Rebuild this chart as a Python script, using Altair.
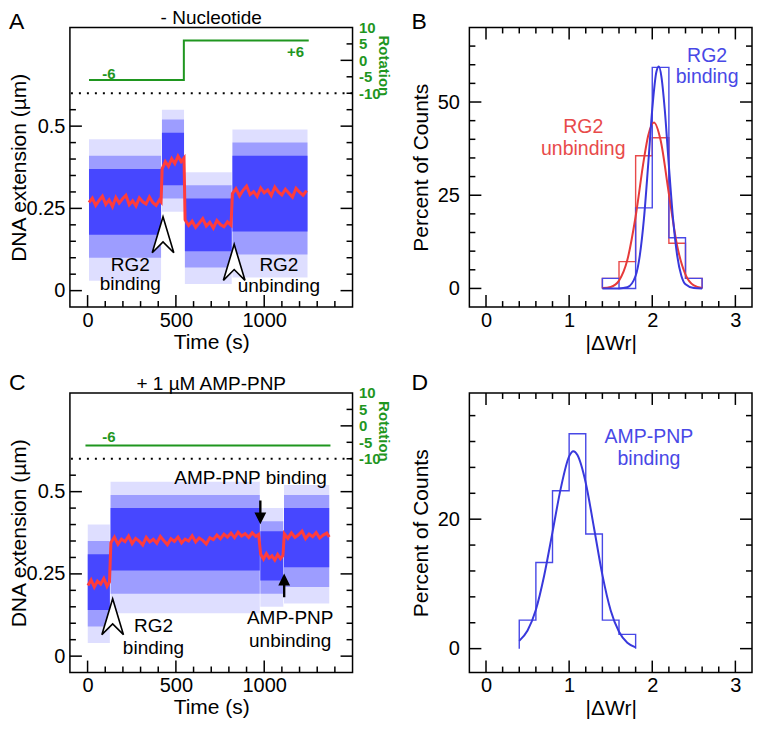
import altair as alt
import pandas as pd

FONT = "Liberation Sans"
PT_BLUE = "#3434ff"
TR_RED = "#ff3c3c"
GREEN = "#1f961f"
H_BLUE = "#4848e6"
H_RED = "#e84a4a"
C_BLUE = "#3838dc"
C_RED = "#e63a3a"

W, H = 283, 280

# ---------------- Panel A (- Nucleotide) ----------------
a_seg_t0 = [8, 421, 551, 820]
a_seg_t1 = [416, 546, 816, 1245]
a_out_lo = [0.03, 0.24, 0.02, 0.04]
a_out_hi = [0.46, 0.55, 0.36, 0.49]
a_mid_lo = [0.10, 0.28, 0.07, 0.11]
a_mid_hi = [0.41, 0.52, 0.32, 0.45]
a_core_lo = [0.17, 0.32, 0.12, 0.18]
a_core_hi = [0.37, 0.48, 0.28, 0.41]

a_red_t = [8, 27, 46, 65, 84, 103, 122, 141, 160, 179, 198, 217, 236, 255, 274, 293, 312, 331, 350, 369, 388, 407, 416,
           422, 440, 458, 476, 494, 512, 530, 546,
           552, 572, 592, 612, 632, 652, 672, 692, 712, 732, 752, 772, 792, 812,
           820, 840, 860, 880, 900, 920, 940, 960, 980, 1000, 1020, 1040, 1060, 1080, 1100, 1120, 1140, 1160, 1180, 1200, 1220, 1240]
a_red_v = [0.268, 0.281, 0.259, 0.274, 0.287, 0.262, 0.276, 0.255, 0.283, 0.266, 0.279, 0.290, 0.261, 0.273, 0.257, 0.282, 0.270, 0.263, 0.285, 0.268, 0.259, 0.276, 0.270,
           0.370, 0.392, 0.378, 0.401, 0.386, 0.409, 0.392, 0.403,
           0.215, 0.198, 0.211, 0.192, 0.205, 0.219, 0.196, 0.208, 0.190, 0.213, 0.201, 0.194, 0.209, 0.199,
           0.295, 0.310, 0.288, 0.305, 0.318, 0.292, 0.301, 0.286, 0.312, 0.297, 0.306, 0.289, 0.315, 0.300, 0.291, 0.308, 0.296, 0.284, 0.311, 0.299, 0.290, 0.304]

a_rot_t = [8, 545, 545, 1252]
a_rot_v = [-6, -6, 6, 6]
a_rot_lab = ["-6", "+6"]
a_rot_lab_t = [121, 1177]
a_rot_lab_v = [-5.6, 1.0]

a_chev_t = [427, 830]
a_chev_e = [0.17, 0.086]
a_txt = ["RG2", "binding", "RG2", "unbinding"]
a_txt_t = [242, 242, 1083, 1083]
a_txt_e = [0.061, 0.001, 0.061, -0.004]

# ---------------- Panel C (+ 1 µM AMP-PNP) ----------------
c_seg_t0 = [1, 130, 978, 1112]
c_seg_t1 = [126, 975, 1108, 1368]
c_out_lo = [0.04, 0.13, 0.15, 0.16]
c_out_hi = [0.40, 0.53, 0.45, 0.52]
c_mid_lo = [0.09, 0.19, 0.19, 0.21]
c_mid_hi = [0.35, 0.49, 0.41, 0.49]
c_core_lo = [0.14, 0.26, 0.23, 0.27]
c_core_hi = [0.31, 0.45, 0.38, 0.45]

c_red_t = [2, 20, 38, 56, 74, 92, 110, 124,
           132, 152, 172, 192, 212, 232, 252, 272, 292, 312, 332, 352, 372, 392, 412, 432, 452, 472, 492, 512, 532, 552,
           572, 592, 612, 632, 652, 672, 692, 712, 732, 752, 772, 792, 812, 832, 852, 872, 892, 912, 932, 952, 968,
           980, 996, 1012, 1028, 1044, 1060, 1076, 1092, 1106,
           1114, 1134, 1154, 1174, 1194, 1214, 1234, 1254, 1274, 1294, 1314, 1334, 1354, 1368]
c_red_v = [0.215, 0.232, 0.210, 0.228, 0.219, 0.236, 0.212, 0.226,
           0.345, 0.362, 0.340, 0.356, 0.348, 0.365, 0.342, 0.358, 0.350, 0.338,
           0.361, 0.347, 0.355, 0.343, 0.364, 0.351, 0.339, 0.357, 0.349, 0.362,
           0.344, 0.356, 0.350, 0.366, 0.347, 0.359, 0.352, 0.341, 0.360, 0.354,
           0.368, 0.357, 0.371, 0.362, 0.374, 0.360, 0.377, 0.365, 0.372, 0.361,
           0.375, 0.364, 0.370,
           0.310, 0.295, 0.312, 0.298, 0.305, 0.292, 0.309, 0.296, 0.306,
           0.372, 0.358, 0.375, 0.361, 0.369, 0.380, 0.357, 0.371, 0.363, 0.376, 0.359, 0.368, 0.374, 0.362]

c_rot_t = [-12, 1375]
c_rot_v = [-6, -6]
c_rot_lab = ["-6"]
c_rot_lab_t = [121]
c_rot_lab_v = [-5.0]

c_chev_t = [142]
c_chev_e = [0.12]
c_down_t, c_down_e = [978], [0.437]
c_up_t, c_up_e = [1113], [0.215]
c_txt = ["AMP-PNP binding", "RG2", "binding", "AMP-PNP", "unbinding"]
c_txt_t = [923, 373, 373, 1147, 1147]
c_txt_e = [0.522, 0.072, 0.005, 0.099, 0.029]

# ---------------- Panel B histograms ----------------
b_bin_lo = [1.4, 1.6, 1.8, 2.0, 2.2, 2.4]
b_bin_hi = [1.6, 1.8, 2.0, 2.2, 2.4, 2.6]
b_bind = [2.7, 0.0, 21.6, 59.3, 13.6, 2.7]
b_unbind = [2.7, 7.2, 35.6, 40.4, 12.1, 2.7]
b_bind_cx = [1.4, 1.6, 1.7, 1.8, 1.85, 1.9, 1.95, 2.0, 2.05, 2.08, 2.11, 2.15, 2.2, 2.25, 2.3, 2.35, 2.4, 2.5, 2.6]
b_bind_cy = [0.0, 0.0, 0.3, 3.4, 8.8, 18.7, 32.9, 48.1, 58.1, 59.5, 56.8, 48.1, 32.9, 18.7, 8.8, 3.4, 1.1, 0.1, 0.0]
b_unb_cx = [1.4, 1.5, 1.6, 1.7, 1.8, 1.9, 1.95, 2.02, 2.1, 2.2, 2.3, 2.4, 2.5, 2.6]
b_unb_cy = [0.1, 0.4, 2.1, 7.6, 19.3, 34.7, 40.9, 44.5, 39.8, 25.4, 11.4, 3.7, 0.8, 0.1]

# ---------------- Panel D histogram ----------------
d_bin_lo = [0.4, 0.6, 0.8, 1.0, 1.2, 1.4, 1.6]
d_bin_hi = [0.6, 0.8, 1.0, 1.2, 1.4, 1.6, 1.8]
d_bind = [4.4, 13.3, 24.4, 33.2, 17.7, 4.4, 2.2]
d_cx = [0.4, 0.5, 0.6, 0.7, 0.8, 0.9, 1.0, 1.05, 1.1, 1.2, 1.3, 1.4, 1.5, 1.6, 1.7, 1.8]
d_cy = [1.2, 2.8, 6.0, 11.3, 18.0, 24.8, 29.7, 30.5, 29.9, 25.6, 18.6, 11.4, 5.9, 2.6, 0.9, 0.2]

# ---------------- ticks ----------------
t_maj = [0, 500, 1000]
t_min = [100, 200, 300, 400, 600, 700, 800, 900, 1100, 1200, 1300, 1400]
e_maj = [0, 0.25, 0.5]
e_min = [0.05, 0.1, 0.15, 0.2, 0.3, 0.35, 0.4, 0.45, 0.55]
r_lab = [-10, -5, 0, 5, 10]
r_maj = [0]
r_min = [-10, -5, 5]
w_maj = [0, 1, 2, 3]
w_min = [0.2, 0.4, 0.6, 0.8, 1.2, 1.4, 1.6, 1.8, 2.2, 2.4, 2.6, 2.8]
pb_maj = [0, 25, 50]
pb_min = [5, 10, 15, 20, 30, 35, 40, 45, 55, 60, 65]
pd_maj = [0, 20]
pd_min = [4, 8, 12, 16, 24, 28, 32, 36]

CHEVRON = "M0,-1L0.6,1L0,0.4L-0.6,1Z"
DOWN = "M-0.1,-1L0.1,-1L0.1,0L0.5,0L0,1L-0.5,0L-0.1,0Z"
UP = "M-0.1,1L0.1,1L0.1,0L0.5,0L0,-1L-0.5,0L-0.1,0Z"

MAJ, MIN = 12, 6

AX = dict(grid=False, domain=False, ticks=False, labelFont=FONT, titleFont=FONT,
          labelFontSize=20, titleFontSize=21, labelColor="black", titleColor="black",
          titleFontWeight="normal")


def tick_layers(xs, ys, xax, yax, xvals_major, xvals_minor, yvals_major, yvals_minor, sides):
    out = []
    for vals, L in ((yvals_major, MAJ), (yvals_minor, MIN)):
        if not vals:
            continue
        df = pd.DataFrame({"v": vals})
        if "left" in sides:
            out.append(alt.Chart(df).mark_rule(color="black", strokeWidth=1.5).encode(
                y=alt.Y("v:Q", scale=ys, axis=yax), x=alt.value(0), x2=alt.value(L)))
        if "right" in sides:
            out.append(alt.Chart(df).mark_rule(color="black", strokeWidth=1.5).encode(
                y=alt.Y("v:Q", scale=ys, axis=yax), x=alt.value(W), x2=alt.value(W - L)))
    for vals, L in ((xvals_major, MAJ), (xvals_minor, MIN)):
        if not vals:
            continue
        df = pd.DataFrame({"v": vals})
        if "bottom" in sides:
            out.append(alt.Chart(df).mark_rule(color="black", strokeWidth=1.5).encode(
                x=alt.X("v:Q", scale=xs, axis=xax), y=alt.value(H), y2=alt.value(H - L)))
        if "top" in sides:
            out.append(alt.Chart(df).mark_rule(color="black", strokeWidth=1.5).encode(
                x=alt.X("v:Q", scale=xs, axis=xax), y=alt.value(0), y2=alt.value(L)))
    return out


def letter_layer(letter, dx, dy):
    return alt.Chart(pd.DataFrame({"s": [letter]})).mark_text(
        fontSize=23, align="left", baseline="alphabetic", font=FONT, color="black"
    ).encode(text="s:N", x=alt.value(dx), y=alt.value(dy))


def title_layer(title):
    return alt.Chart(pd.DataFrame({"s": [title]})).mark_text(
        fontSize=19, align="center", baseline="alphabetic", font=FONT, color="black"
    ).encode(text="s:N", x=alt.value(W / 2), y=alt.value(-3))


def time_panel(letter, title, seg, red_t, red_v, rot_t, rot_v, rlab, rlab_t, rlab_v,
               chev_t, chev_e, txt, txt_t, txt_e, arrows, letter_dy):
    xs = alt.Scale(domain=[-100, 1500], nice=False, zero=False)
    ys = alt.Scale(domain=[-0.05, 0.8], nice=False, zero=False)
    rs = alt.Scale(domain=[-75, 10], nice=False, zero=False)
    t0, t1, olo, ohi, mlo, mhi, clo, chi = seg
    seg_df = pd.DataFrame({"t0": t0, "t1": t1, "olo": olo, "ohi": ohi,
                           "mlo": mlo, "mhi": mhi, "clo": clo, "chi": chi})
    xax = alt.Axis(values=t_maj, title="Time (s)", format="d", labelPadding=3, titlePadding=1,
                   labelFlush=False, **AX)
    yax = alt.Axis(values=e_maj, title="DNA extension (µm)", format=".2~f", labelPadding=5,
                   titleX=-40, **AX)
    layers = []
    for lo, hi, op in (("olo", "ohi", 0.16), ("mlo", "mhi", 0.38), ("clo", "chi", 0.82)):
        layers.append(alt.Chart(seg_df).mark_rect(color=PT_BLUE, opacity=op).encode(
            x=alt.X("t0:Q", scale=xs, axis=xax),
            x2="t1:Q",
            y=alt.Y(f"{lo}:Q", scale=ys, axis=yax),
            y2=f"{hi}:Q"))
    red_df = pd.DataFrame({"t": red_t, "v": red_v})
    layers.append(alt.Chart(red_df).mark_line(color=TR_RED, strokeWidth=3).encode(
        x=alt.X("t:Q", scale=xs, axis=xax), y=alt.Y("v:Q", scale=ys, axis=yax)))
    layers.append(alt.Chart(pd.DataFrame({"d": [0.6]})).mark_rule(
        color="black", strokeWidth=2, strokeDash=[2, 6]).encode(
        y=alt.Y("d:Q", scale=ys, axis=yax)))
    layers.append(alt.Chart(pd.DataFrame({"t": chev_t, "e": chev_e})).mark_point(
        shape=CHEVRON, size=1300, filled=True, fill="white", stroke="black",
        strokeWidth=1.6, opacity=1).encode(
        x=alt.X("t:Q", scale=xs, axis=xax), y=alt.Y("e:Q", scale=ys, axis=yax)))
    for shp, at, ae in arrows:
        layers.append(alt.Chart(pd.DataFrame({"t": at, "e": ae})).mark_point(
            shape=shp, size=560, filled=True, color="black", opacity=1).encode(
            x=alt.X("t:Q", scale=xs, axis=xax), y=alt.Y("e:Q", scale=ys, axis=yax)))
    layers.append(alt.Chart(pd.DataFrame({"s": txt, "t": txt_t, "e": txt_e})).mark_text(
        fontSize=19, align="center", baseline="alphabetic", font=FONT, color="black").encode(
        text="s:N", x=alt.X("t:Q", scale=xs, axis=xax), y=alt.Y("e:Q", scale=ys, axis=yax)))
    layers += tick_layers(xs, ys, xax, yax, t_maj, t_min, e_maj, e_min, ("left", "right", "bottom"))
    layers.append(letter_layer(letter, -61, letter_dy))
    layers.append(title_layer(title))
    main = alt.layer(*layers)

    rax = alt.Axis(values=r_lab, orient="right", grid=False, domain=False, ticks=False,
                   labelFont=FONT, titleFont=FONT, labelExpr="'' + datum.value",
                   labelColor=GREEN, labelFontWeight="bold",
                   labelFontSize=15, labelPadding=6, labelAlign="left",
                   title="Rotation", titleColor=GREEN, titleFontWeight="bold", titleFontSize=15,
                   titleAngle=90, titleX=31, titleY=38, titleAlign="center", titleBaseline="middle")
    rot_df = pd.DataFrame({"t": rot_t, "r": rot_v, "i": list(range(len(rot_t)))})
    rl = [alt.Chart(rot_df).mark_line(color=GREEN, strokeWidth=2).encode(
        x=alt.X("t:Q", scale=xs, axis=xax), y=alt.Y("r:Q", scale=rs, axis=rax), order="i:Q")]
    rl.append(alt.Chart(pd.DataFrame({"s": rlab, "t": rlab_t, "r": rlab_v})).mark_text(
        fontSize=15, fontWeight="bold", color=GREEN, align="center", baseline="alphabetic", font=FONT).encode(
        text="s:N", x=alt.X("t:Q", scale=xs, axis=xax), y=alt.Y("r:Q", scale=rs, axis=rax)))
    rl += tick_layers(xs, rs, xax, rax, [], [], r_maj, r_min, ("right",))
    rot = alt.layer(*rl)
    return alt.layer(main, rot).resolve_scale(y="independent").properties(width=W, height=H)


def step_df(lo, hi, vals):
    xs_ = [lo[0]] + list(lo) + [hi[-1], hi[-1]]
    ys_ = [0] + list(vals) + [vals[-1], 0]
    return pd.DataFrame({"x": xs_, "y": ys_, "i": list(range(len(xs_)))})


def hist_panel(letter, ydom, ymaj, ymin, steps, curves, texts, letter_dy):
    xs = alt.Scale(domain=[-0.2, 3.2], nice=False, zero=False)
    ys = alt.Scale(domain=ydom, nice=False, zero=False)
    xax = alt.Axis(values=w_maj, title="|ΔWr|", labelPadding=3, titlePadding=2, labelFlush=False, **AX)
    yax = alt.Axis(values=ymaj, title="Percent of Counts", labelPadding=10, titlePadding=6, **AX)
    layers = []
    for df, col in steps:
        layers.append(alt.Chart(df).mark_line(color=col, strokeWidth=1.4, interpolate="step-after").encode(
            x=alt.X("x:Q", scale=xs, axis=xax),
            y=alt.Y("y:Q", scale=ys, axis=yax),
            order="i:Q"))
    for cx, cy, col in curves:
        layers.append(alt.Chart(pd.DataFrame({"x": cx, "y": cy})).mark_line(
            color=col, strokeWidth=2, interpolate="monotone").encode(
            x=alt.X("x:Q", scale=xs, axis=xax), y=alt.Y("y:Q", scale=ys, axis=yax)))
    for s, tx, ty, col in texts:
        layers.append(alt.Chart(pd.DataFrame({"s": s, "x": tx, "y": ty})).mark_text(
            fontSize=19.5, align="center", baseline="alphabetic", font=FONT, color=col).encode(
            text="s:N", x=alt.X("x:Q", scale=xs, axis=xax), y=alt.Y("y:Q", scale=ys, axis=yax)))
    layers += tick_layers(xs, ys, xax, yax, w_maj, w_min, ymaj, ymin, ("left", "right", "bottom", "top"))
    layers.append(letter_layer(letter, -58, letter_dy))
    return alt.layer(*layers).properties(width=W, height=H)


A = time_panel("A", "- Nucleotide",
               (a_seg_t0, a_seg_t1, a_out_lo, a_out_hi, a_mid_lo, a_mid_hi, a_core_lo, a_core_hi),
               a_red_t, a_red_v, a_rot_t, a_rot_v, a_rot_lab, a_rot_lab_t, a_rot_lab_v,
               a_chev_t, a_chev_e, a_txt, a_txt_t, a_txt_e, [], 2)
C = time_panel("C", "+ 1 µM AMP-PNP",
               (c_seg_t0, c_seg_t1, c_out_lo, c_out_hi, c_mid_lo, c_mid_hi, c_core_lo, c_core_hi),
               c_red_t, c_red_v, c_rot_t, c_rot_v, c_rot_lab, c_rot_lab_t, c_rot_lab_v,
               c_chev_t, c_chev_e, c_txt, c_txt_t, c_txt_e,
               [(DOWN, c_down_t, c_down_e), (UP, c_up_t, c_up_e)], -3)

B = hist_panel("B", [-5, 70], pb_maj, pb_min,
               [(step_df(b_bin_lo, b_bin_hi, b_unbind), H_RED), (step_df(b_bin_lo, b_bin_hi, b_bind), H_BLUE)],
               [(b_unb_cx, b_unb_cy, C_RED), (b_bind_cx, b_bind_cy, C_BLUE)],
               [(["RG2", "binding"], [2.66, 2.66], [60.6, 55.0], H_BLUE),
                (["RG2", "unbinding"], [1.17, 1.17], [41.8, 35.9], H_RED)], 2)
D = hist_panel("D", [-3.7, 39.5], pd_maj, pd_min,
               [(step_df(d_bin_lo, d_bin_hi, d_bind), H_BLUE)],
               [(d_cx, d_cy, C_BLUE)],
               [(["AMP-PNP", "binding"], [1.96, 1.96], [31.7, 28.3], H_BLUE)], -3)

chart = alt.concat(A, B, C, D, columns=2, spacing={"row": 86, "column": 117}, bounds="flush").properties(
    padding={"left": 0, "top": 0, "right": 0, "bottom": 0}
).configure_view(stroke="black", strokeWidth=1.5).configure_text(font=FONT)

chart.save("out.html", embed_options={"renderer": "svg", "actions": False})
